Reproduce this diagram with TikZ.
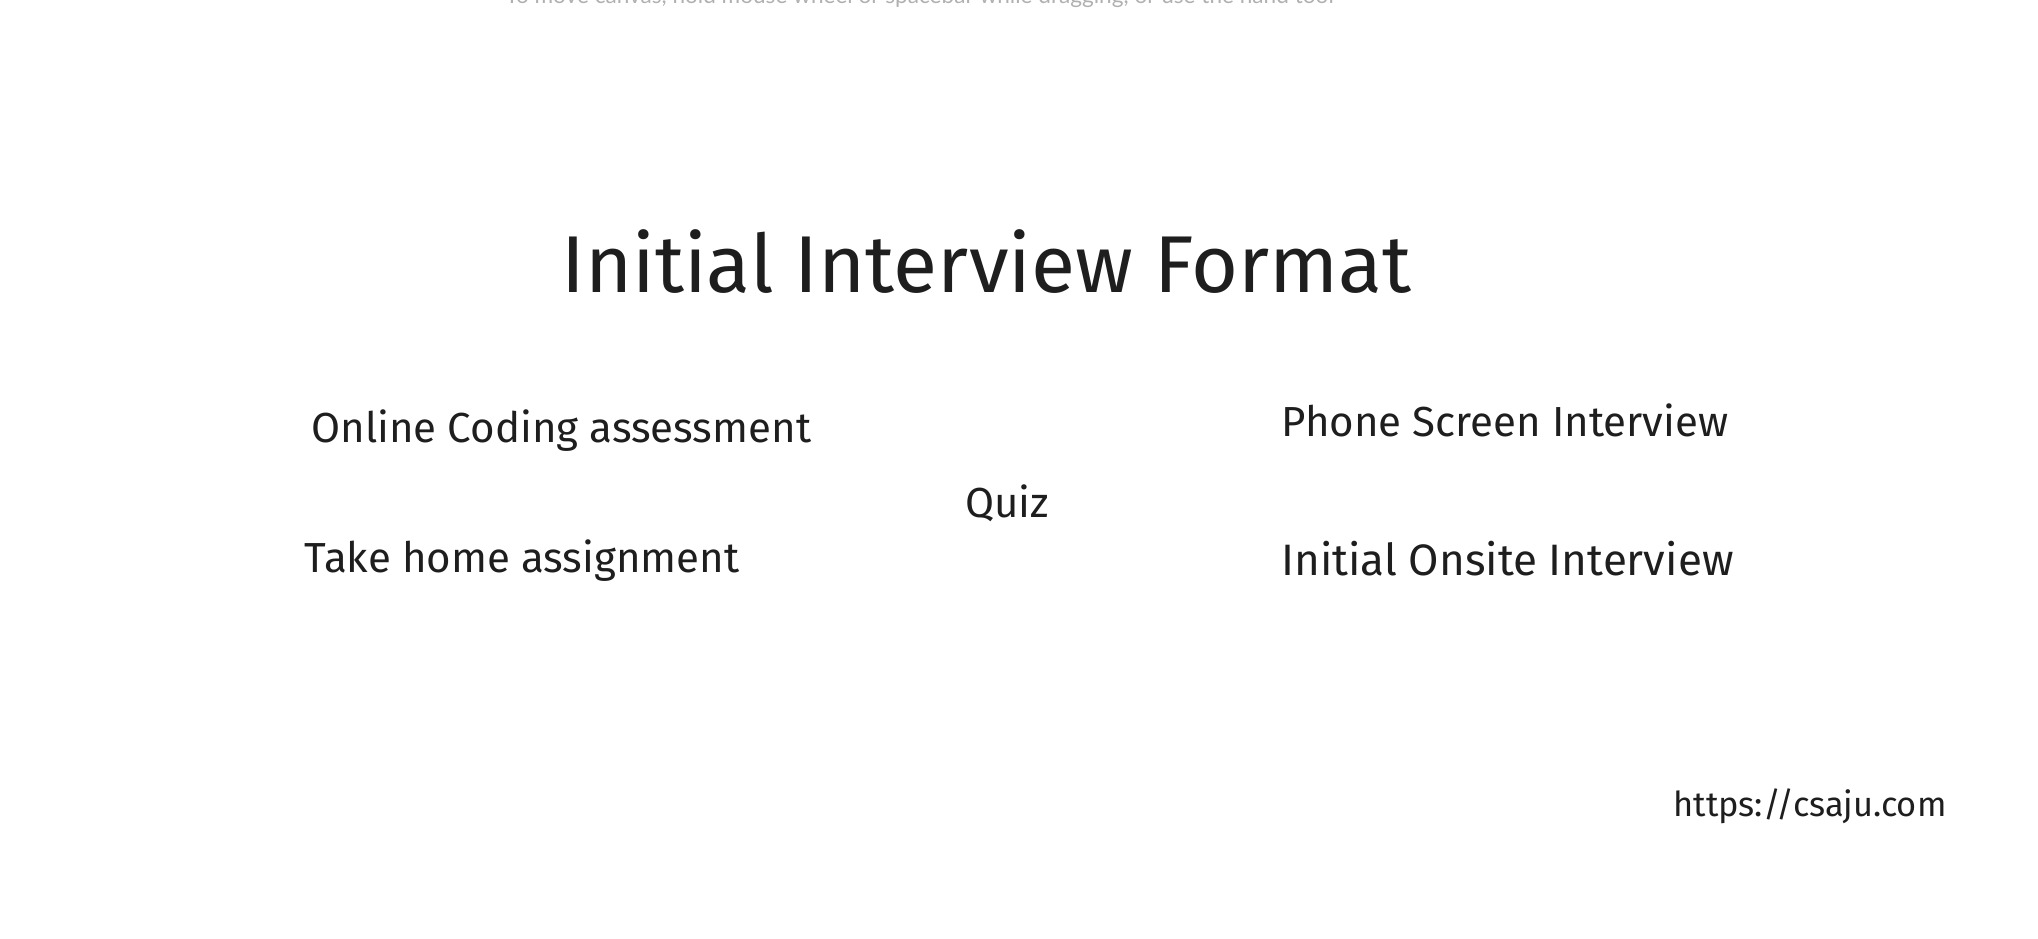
\documentclass[tikz,border=0pt]{standalone}
\usepackage{fontspec}
\setmainfont{Fira Sans}
\newfontfamily\hintfont{Lato}
\usepackage{xcolor}
\usepackage{tikz}
\usetikzlibrary{positioning}
\definecolor{ink}{HTML}{1E1E1E}
\definecolor{hintgray}{HTML}{B0B0B0}

\begin{document}
\begin{tikzpicture}[x=0.5pt,y=-0.5pt]
                \tikzset{txt/.style = {inner sep=0pt, anchor=base west, text=ink}}
                \tikzset{heading/.style = {txt, font=\fontsize{40.3}{48}\selectfont}}
                \tikzset{item/.style = {txt, font=\fontsize{21}{25}\selectfont}}

                \useasboundingbox (0,0) rectangle (2038,938);
                \clip (0,0) rectangle (2038,938);

                % canvas hint, cut by the top edge
                \node[inner sep=0pt, anchor=base west, text=hintgray, font=\hintfont\fontsize{11.3}{13}\selectfont] (hint) at (505,3) {To move canvas, hold mouse wheel or spacebar while dragging, or use the hand tool};

                \node[heading] (title) at (561,292) {Initial Interview Format};

                % left column
                \node[item] (online) at (311,442) {Online Coding assessment};
                \node[item] (takehome) at (304,572) {Take home assignment};

                % middle
                \node[item] (quiz) at (965,517) {Quiz};

                % right column
                \node[item] (phone) at (1281,436) {Phone Screen Interview};
                \node[item, font=\fontsize{22}{26}\selectfont] (onsite) at (1281,575) {Initial Onsite Interview};

                \node[txt, font=\fontsize{17.2}{21}\selectfont] (url) at (1673,816) {https://csaju.com};

\end{tikzpicture}
\end{document}
